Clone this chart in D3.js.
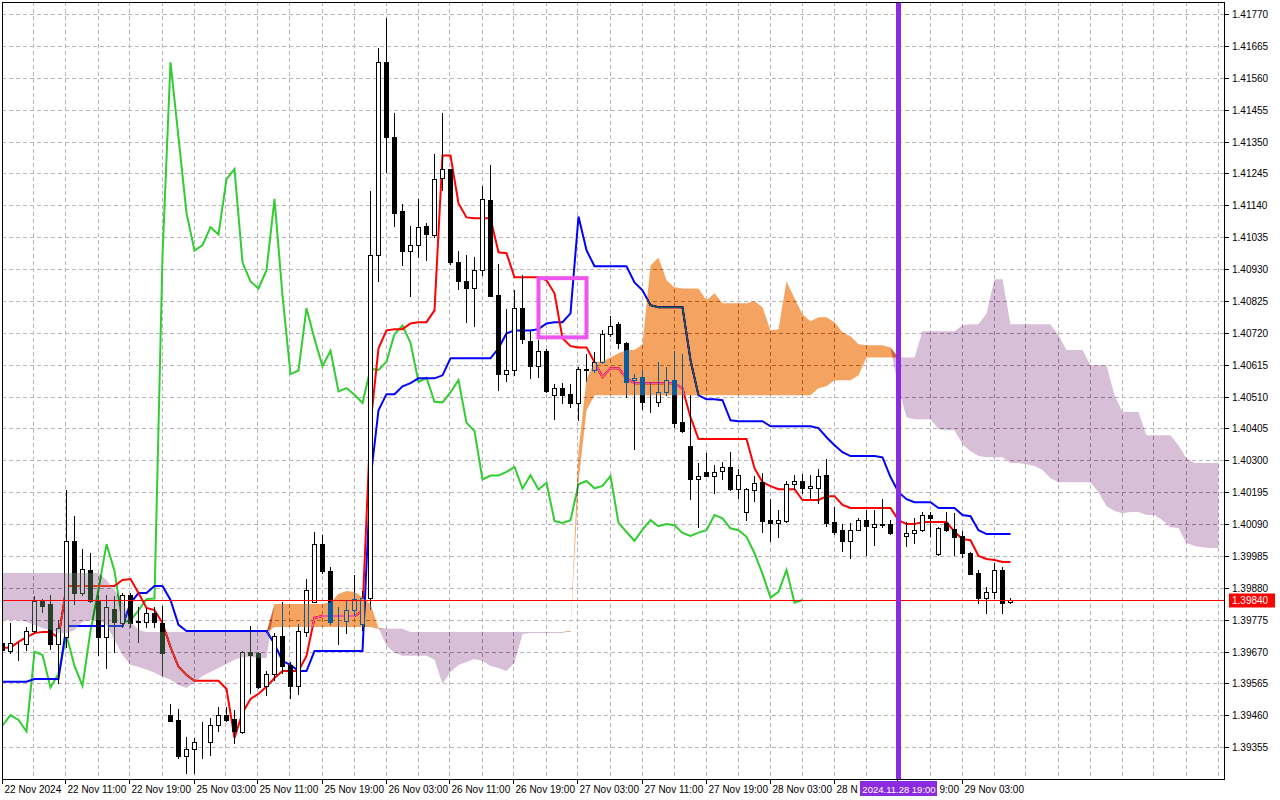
<!DOCTYPE html>
<html>
<head>
<meta charset="utf-8">
<script src="https://cdn.jsdelivr.net/npm/d3@7"></script>
<style>
body { margin: 0; background: #fff; }
svg { display: block; }
text { font-family: "Liberation Sans", Arial, sans-serif; font-size: 10px; }
</style>
</head>
<body>
<svg width="1280" height="800"></svg>
<script>
// H1 bars, 22 Nov 03:00 .. 29 Nov 09:00 (127 bars)
var opens = [1.39700,1.39673,1.39698,1.39695,1.39739,1.39837,1.39827,1.39695,1.39719,1.40034,1.39862,1.39939,1.39838,1.39719,1.39809,1.39765,1.39856,1.39767,1.39769,1.39798,1.39765,
  1.39462,1.39445,1.39325,1.39349,1.39371,1.39371,1.39427,1.39461,1.39448,1.39404,1.39670,1.39664,1.39556,1.39597,1.39723,1.39627,1.39557,1.39733,1.39833,1.40024,1.39936,1.39771,1.39771,1.39806,
  1.39760,1.39848,1.40975,1.41611,1.41364,1.41122,1.40991,1.41009,1.41072,1.41043,1.41229,1.41259,1.40953,1.40891,1.40866,1.40926,1.41158,1.40845,1.40584,1.40596,1.40801,1.40694,1.40610,1.40661,
  1.40514,1.40538,1.40519,1.40489,1.40601,1.40598,1.40625,1.40716,1.40748,1.40687,1.40564,1.40574,1.40493,1.40491,1.40524,1.40564,1.40427,1.40347,1.40237,1.40262,1.40250,1.40264,1.40278,1.40207,
  1.40129,1.40201,1.40229,1.40105,1.40094,1.40100,1.40221,1.40232,1.40208,1.40208,1.40251,1.40096,1.40069,1.40033,1.40072,1.40103,1.40082,1.40090,1.40090,1.40061,1.40051,1.40062,1.40070,1.40120,
  1.39991,1.40092,1.40073,1.40050,1.39996,1.39928,1.39848,1.39867,1.39939,1.39833];
var highs = [1.39705,1.39765,1.39703,1.39752,1.39853,1.39842,1.39856,1.39774,1.40202,1.40116,1.40007,1.39994,1.39856,1.39856,1.39853,1.39862,1.39863,1.39818,1.39813,1.39818,1.39820,
  1.39498,1.39480,1.39388,1.39385,1.39438,1.39451,1.39489,1.39489,1.39478,1.39673,1.39754,1.39670,1.39607,1.39730,1.39833,1.39635,1.39760,1.39909,1.40065,1.40055,1.39950,1.39818,1.39840,1.39921,
  1.39870,1.41188,1.41658,1.41758,1.41443,1.41144,1.41072,1.41161,1.41081,1.41309,1.41445,1.41260,1.40990,1.40975,1.40970,1.41204,1.41273,1.40947,1.40798,1.40862,1.40911,1.40725,1.40697,1.40667,
  1.40552,1.40555,1.40552,1.40609,1.40650,1.40658,1.40728,1.40776,1.40756,1.40690,1.40583,1.40599,1.40559,1.40625,1.40609,1.40659,1.40649,1.40514,1.40290,1.40323,1.40284,1.40294,1.40327,1.40273,
  1.40210,1.40248,1.40259,1.40173,1.40136,1.40232,1.40252,1.40254,1.40251,1.40270,1.40306,1.40147,1.40089,1.40094,1.40111,1.40136,1.40138,1.40173,1.40105,1.40110,1.40097,1.40110,1.40129,1.40129,
  1.40081,1.40129,1.40125,1.40068,1.39999,1.39939,1.39884,1.39961,1.39950,1.39847];
var lows = [1.39665,1.39665,1.39643,1.39676,1.39736,1.39802,1.39678,1.39566,1.39686,1.39827,1.39856,1.39834,1.39659,1.39615,1.39670,1.39752,1.39752,1.39703,1.39752,1.39752,1.39594,
  1.39440,1.39319,1.39270,1.39270,1.39319,1.39331,1.39407,1.39443,1.39369,1.39403,1.39533,1.39549,1.39527,1.39576,1.39600,1.39518,1.39532,1.39723,1.39833,1.39930,1.39760,1.39694,1.39730,1.39789,
  1.39740,1.39811,1.40889,1.41248,1.41072,1.40942,1.40842,1.40971,1.40961,1.41037,1.41191,1.40946,1.40864,1.40757,1.40743,1.40911,1.40840,1.40531,1.40560,1.40580,1.40688,1.40571,1.40573,1.40525,
  1.40437,1.40489,1.40476,1.40434,1.40560,1.40592,1.40620,1.40708,1.40669,1.40509,1.40337,1.40468,1.40460,1.40480,1.40514,1.40411,1.40394,1.40174,1.40081,1.40248,1.40191,1.40237,1.40202,1.40177,
  1.40102,1.40167,1.40064,1.40033,1.40047,1.40096,1.40206,1.40193,1.40175,1.40160,1.40083,1.40059,1.40002,1.39977,1.40070,1.39988,1.40021,1.40081,1.40057,1.40030,1.40018,1.40028,1.40067,1.40051,
  1.39988,1.40068,1.39988,1.39980,1.39925,1.39829,1.39798,1.39846,1.39798,1.39831];
var closes = [1.39675,1.39698,1.39700,1.39739,1.39837,1.39820,1.39695,1.39747,1.40034,1.39862,1.39941,1.39838,1.39719,1.39816,1.39769,1.39856,1.39763,1.39771,1.39798,1.39769,1.39667,
  1.39443,1.39327,1.39349,1.39371,1.39373,1.39427,1.39461,1.39445,1.39407,1.39670,1.39659,1.39552,1.39597,1.39723,1.39623,1.39557,1.39738,1.39874,1.40024,1.39936,1.39767,1.39772,1.39806,1.39843,
  1.39845,1.40975,1.41611,1.41364,1.41114,1.40991,1.41009,1.41068,1.41044,1.41226,1.41259,1.40952,1.40889,1.40866,1.40926,1.41161,1.40842,1.40584,1.40596,1.40801,1.40700,1.40610,1.40661,1.40527,
  1.40538,1.40516,1.40489,1.40601,1.40598,1.40625,1.40716,1.40744,1.40687,1.40558,1.40572,1.40493,1.40491,1.40524,1.40564,1.40424,1.40396,1.40237,1.40250,1.40250,1.40262,1.40278,1.40207,1.40251,
  1.40204,1.40226,1.40100,1.40094,1.40103,1.40221,1.40232,1.40208,1.40216,1.40248,1.40094,1.40064,1.40035,1.40072,1.40103,1.40083,1.40090,1.40086,1.40061,1.40051,1.40062,1.40070,1.40120,1.40109,
  1.40076,1.40070,1.40048,1.39994,1.39926,1.39848,1.39867,1.39939,1.39831,1.39840];

// Ichimoku lines
var tenkan = [1.39683,1.39683,1.39702,1.39718,1.39731,1.39735,1.39735,1.39715,1.39886,1.39886,1.39886,1.39886,1.39886,1.39886,1.39886,
  1.39906,1.39909,1.39863,1.39814,1.39807,1.39764,1.39685,1.39620,1.39593,1.39574,1.39574,1.39574,1.39574,
  1.39547,1.39386,1.39468,1.39514,1.39531,1.39554,1.39583,1.39606,1.39606,1.39606,1.39656,1.39781,1.39787,1.39787,1.39787,1.39787,1.39787,
  1.39804,1.40419,1.40669,1.40728,1.40732,1.40732,1.40751,1.40755,1.40755,1.40794,1.41304,1.41304,1.41146,1.41100,1.41097,1.41097,1.41097,
  1.40985,1.40982,1.40903,1.40903,1.40903,1.40903,1.40893,1.40850,1.40702,1.40676,1.40672,1.40672,1.40623,1.40574,1.40603,1.40603,1.40570,
  1.40554,1.40554,1.40554,1.40554,1.40554,1.40554,1.40537,1.40442,1.40370,1.40370,1.40370,1.40370,1.40370,1.40370,1.40370,
  1.40274,1.40228,1.40215,1.40205,1.40205,1.40205,1.40169,1.40169,1.40169,1.40182,1.40182,1.40153,1.40143,1.40143,1.40143,1.40143,1.40143,1.40143,
  1.40103,1.40090,1.40090,1.40097,1.40097,1.40097,1.40097,1.40064,1.40041,1.40037,1.39985,1.39975,1.39972,1.39965,1.39965];
var kijun = [1.39571,1.39571,1.39571,1.39571,1.39580,1.39580,1.39580,1.39580,1.39754,1.39754,1.39754,1.39754,1.39754,1.39754,1.39754,1.39754,
  1.39830,1.39863,1.39863,1.39886,1.39886,1.39840,1.39758,1.39738,1.39738,1.39738,1.39738,1.39738,1.39738,1.39738,1.39738,1.39738,1.39738,1.39738,
  1.39695,1.39639,1.39626,1.39606,1.39606,1.39672,1.39672,1.39672,1.39672,1.39672,1.39672,1.39672,
  1.40238,1.40465,1.40518,1.40518,1.40544,1.40554,1.40570,1.40570,1.40570,1.40580,1.40636,1.40636,1.40636,1.40636,1.40636,1.40636,
  1.40669,1.40718,1.40728,1.40728,1.40728,1.40732,1.40751,1.40755,1.40755,1.40784,1.41103,1.40992,1.40939,1.40939,1.40939,1.40939,1.40939,
  1.40886,1.40860,1.40811,1.40804,1.40804,1.40804,1.40804,1.40630,1.40514,1.40501,1.40501,1.40498,1.40432,1.40429,1.40429,1.40429,1.40429,
  1.40412,1.40412,1.40412,1.40412,1.40412,1.40412,1.40406,1.40376,1.40350,1.40327,1.40314,1.40314,1.40314,1.40314,
  1.40310,1.40245,1.40195,1.40172,1.40162,1.40162,1.40162,1.40143,1.40143,1.40143,1.40120,1.40116,1.40070,1.40057,1.40057,1.40057,1.40057];
// senkou spans run 26 bars past the last candle (153 points)
var spanA = [1.39774,1.39774,1.39774,1.39768,1.39758,1.39748,1.39741,1.39731,1.39731,1.39741,1.39768,1.39774,1.39774,1.39758,1.39708,1.39659,1.39626,
  1.39620,1.39610,1.39600,1.39587,1.39577,1.39560,1.39550,1.39570,1.39590,1.39603,1.39616,1.39629,1.39643,1.39652,1.39652,1.39649,1.39649,
  1.39827,1.39827,1.39827,1.39827,1.39827,1.39827,1.39827,1.39833,1.39860,1.39870,1.39866,1.39850,1.39827,
  1.39748,1.39689,1.39666,1.39656,1.39656,1.39656,1.39656,1.39643,1.39564,1.39603,1.39626,1.39636,1.39646,1.39639,1.39623,1.39616,1.39606,1.39633,
  1.39728,1.39731,1.39731,1.39731,1.39731,1.39731,1.39738,
  1.40330,1.40567,1.40623,1.40626,1.40639,1.40653,1.40663,1.40663,1.40682,1.40942,1.40968,1.40893,1.40870,1.40866,1.40866,1.40866,
  1.40827,1.40850,1.40817,1.40817,1.40817,1.40817,1.40824,1.40804,1.40728,1.40732,1.40890,1.40834,1.40781,1.40758,1.40771,1.40771,
  1.40755,1.40722,1.40709,1.40682,1.40679,1.40679,1.40679,1.40672,1.40537,
  1.40442,1.40435,1.40435,1.40435,1.40403,1.40399,1.40399,1.40353,1.40330,1.40314,1.40310,1.40310,1.40310,1.40291,1.40291,1.40287,1.40281,
  1.40268,1.40241,1.40228,1.40228,1.40228,1.40228,1.40228,1.40195,1.40149,1.40133,1.40126,1.40130,1.40130,1.40120,1.40120,1.40103,
  1.40080,1.40077,1.40028,1.40018,1.40014,1.40011,1.40011];
var spanB = [1.39929,1.39929,1.39929,1.39929,1.39929,1.39929,1.39929,1.39929,1.39929,1.39929,1.39929,1.39929,1.39929,1.39906,1.39873,1.39840,1.39768,1.39741,
  1.39735,1.39735,1.39735,1.39735,1.39735,1.39735,1.39735,1.39735,1.39735,1.39735,1.39735,1.39735,1.39735,1.39735,1.39735,1.39735,
  1.39751,1.39751,1.39751,1.39751,1.39751,1.39751,1.39751,1.39751,1.39751,1.39751,1.39751,1.39751,1.39751,
  1.39745,1.39745,1.39745,1.39745,
  1.39735,1.39735,1.39735,1.39735,1.39735,1.39735,1.39735,1.39735,1.39735,1.39735,1.39735,1.39735,1.39735,1.39735,1.39735,1.39735,1.39735,1.39735,1.39735,1.39735,1.39735,
  1.40228,1.40465,
  1.40514,1.40514,1.40514,1.40514,1.40514,1.40514,1.40514,1.40514,1.40514,1.40514,1.40514,1.40514,1.40514,1.40514,
  1.40514,1.40514,1.40514,1.40514,1.40514,1.40514,1.40514,1.40514,1.40514,1.40514,1.40514,1.40514,1.40514,1.40514,
  1.40537,1.40544,1.40564,1.40564,1.40564,1.40580,1.40639,1.40639,1.40639,1.40639,1.40639,1.40639,1.40639,
  1.40725,1.40725,1.40725,1.40725,1.40725,1.40745,1.40748,1.40748,1.40784,1.40896,1.40896,
  1.40748,1.40748,1.40748,1.40748,1.40748,1.40748,1.40712,1.40663,1.40663,1.40663,1.40613,1.40613,1.40613,1.40514,
  1.40459,1.40459,1.40459,1.40383,1.40383,1.40383,1.40383,1.40350,1.40307,1.40291,1.40291,1.40291,1.40291];

var priceTicks = [1.39355,1.39460,1.39565,1.39670,1.39775,1.39880,1.39985,1.40090,1.40195,1.40300,1.40405,1.40510,
  1.40615,1.40720,1.40825,1.40930,1.41035,1.41140,1.41245,1.41350,1.41455,1.41560,1.41665,1.41770];
var timeLabels = ['22 Nov 2024','22 Nov 11:00','22 Nov 19:00','25 Nov 03:00','25 Nov 11:00','25 Nov 19:00','26 Nov 03:00',
  '26 Nov 11:00','26 Nov 19:00','27 Nov 03:00','27 Nov 11:00','27 Nov 19:00','28 Nov 03:00','28 Nov 11:00','28 Nov 19:00','29 Nov 03:00'];
var timeLabelBars = [0,8,16,24,32,40,48,56,64,72,80,88,96,104,112,120];
var lastPrice = 1.39840;
var markerBar = 112, markerLabel = '2024.11.28 19:00';
var boxBars = [67, 73], boxPrices = [1.40900, 1.40705];

var svg = d3.select('svg');
var plotLeft = 2, plotTop = 2, plotRight = 1225, plotBottom = 780;

// 8px per bar, price scale fixed by the right-hand labels
var x = d3.scaleLinear().domain([0, 152]).range([2.5, 1218.5]);
var y = d3.scaleLinear().domain([1.39840, 1.41770]).range([600, 14]);

svg.append('rect').attr('width', 1280).attr('height', 800).attr('fill', '#fff');

svg.append('clipPath').attr('id', 'plot')
  .append('rect').attr('x', plotLeft).attr('y', plotTop)
  .attr('width', plotRight - plotLeft).attr('height', plotBottom - plotTop);

// everything inside the plot sits in one group so the kumo blend sees a white backdrop
var plot = svg.append('g').attr('clip-path', 'url(#plot)');
plot.append('rect').attr('x', plotLeft).attr('y', plotTop)
  .attr('width', plotRight - plotLeft).attr('height', plotBottom - plotTop).attr('fill', '#fff');

var grid = plot.append('g').attr('stroke', '#bdb3bd').attr('stroke-dasharray', '4,3').attr('stroke-width', 1);
// vertical grid every 4 bars
for (var b = 4; b <= 152; b += 4) {
  grid.append('line').attr('x1', Math.round(x(b)) - 0.5).attr('x2', Math.round(x(b)) - 0.5)
    .attr('y1', plotTop).attr('y2', plotBottom);
}
priceTicks.forEach(function(p) {
  var yy = Math.round(y(p)) + 0.5;
  grid.append('line').attr('x1', plotLeft).attr('x2', plotRight).attr('y1', yy).attr('y2', yy);
});

var line = d3.line().x(function(d, i) { return x(i); }).y(function(d) { return y(d); });

// chikou = closes shifted 26 bars back
plot.append('path').datum(closes.slice(26)).attr('d', line)
  .attr('fill', 'none').attr('stroke', '#32cd32').attr('stroke-width', 2);
plot.append('path').datum(kijun).attr('d', line)
  .attr('fill', 'none').attr('stroke', '#0000ff').attr('stroke-width', 2);
plot.append('path').datum(tenkan).attr('d', line)
  .attr('fill', 'none').attr('stroke', '#ff0000').attr('stroke-width', 2);

// candles
var candles = plot.append('g');
closes.forEach(function(c, i) {
  var o = opens[i], xi = x(i);
  candles.append('line').attr('x1', xi).attr('x2', xi)
    .attr('y1', Math.round(y(highs[i]))).attr('y2', Math.round(y(lows[i])) + 1)
    .attr('stroke', '#000').attr('stroke-width', 1);
  var top = Math.round(y(Math.max(o, c))), bot = Math.round(y(Math.min(o, c)));
  candles.append('rect').attr('x', xi - 2).attr('width', 4)
    .attr('y', top + 0.5).attr('height', Math.max(bot - top, 0))
    .attr('fill', c >= o ? '#fff' : '#000').attr('stroke', '#000').attr('stroke-width', 1);
});

// kumo, painted as inverted colour with difference blend (MT5 xor look)
var bull = d3.area().x(function(d, i) { return x(i); })
  .y0(function(d, i) { return y(spanB[i]); })
  .y1(function(d, i) { return y(Math.max(spanA[i], spanB[i])); });
var bear = d3.area().x(function(d, i) { return x(i); })
  .y0(function(d, i) { return y(spanA[i]); })
  .y1(function(d, i) { return y(Math.max(spanA[i], spanB[i])); });
plot.append('path').datum(spanA).attr('d', bull)
  .attr('fill', '#0b5b9f').style('mix-blend-mode', 'difference');
plot.append('path').datum(spanA).attr('d', bear)
  .attr('fill', '#274027').style('mix-blend-mode', 'difference');

// last price line
var yLast = Math.round(y(lastPrice)) + 0.5;
plot.append('line').attr('x1', plotLeft).attr('x2', plotRight).attr('y1', yLast).attr('y2', yLast)
  .attr('stroke', '#ff0000').attr('stroke-width', 1);

// highlighted box
plot.append('rect')
  .attr('x', x(boxBars[0])).attr('y', y(boxPrices[0]))
  .attr('width', x(boxBars[1]) - x(boxBars[0])).attr('height', y(boxPrices[1]) - y(boxPrices[0]))
  .attr('fill', 'none').attr('stroke', '#ee55ee').attr('stroke-width', 4);

// vertical marker line
plot.append('line').attr('x1', x(markerBar)).attr('x2', x(markerBar))
  .attr('y1', plotTop).attr('y2', plotBottom)
  .attr('stroke', '#8a2be2').attr('stroke-width', 5);

// frame
svg.append('rect').attr('x', plotLeft + 0.5).attr('y', plotTop + 0.5)
  .attr('width', plotRight - plotLeft - 1).attr('height', plotBottom - plotTop - 1)
  .attr('fill', 'none').attr('stroke', '#000').attr('stroke-width', 1);

// price axis
priceTicks.forEach(function(p) {
  var yy = Math.round(y(p)) + 0.5;
  svg.append('line').attr('x1', plotRight - 1).attr('x2', plotRight + 4).attr('y1', yy).attr('y2', yy)
    .attr('stroke', '#000');
  svg.append('text').attr('x', plotRight + 7).attr('y', yy + 3.5).attr('fill', '#000').text(p.toFixed(5));
});
svg.append('rect').attr('x', plotRight + 4).attr('y', yLast - 7).attr('width', 46).attr('height', 14)
  .attr('fill', '#ff0000');
svg.append('text').attr('x', plotRight + 7).attr('y', yLast + 3.5).attr('fill', '#fff').text(lastPrice.toFixed(5));

// time axis; the marker date box hides most of the two labels it sits on,
// so only the visible bits are written out, each at its own place
var mx = x(markerBar), boxL = Math.round(mx - 38), boxR = Math.round(mx + 39);
timeLabelBars.forEach(function(b, k) {
  var xx = Math.round(x(b)) - 0.5;
  svg.append('line').attr('x1', xx).attr('x2', xx).attr('y1', plotBottom - 1).attr('y2', plotBottom + 4)
    .attr('stroke', '#000');
  var s = timeLabels[k];
  var t = svg.append('text').attr('x', xx + 2).attr('y', 793).attr('fill', '#000').text(s);
  if (b === 104) {
    while (s.length && xx + 2 + t.node().getComputedTextLength() > boxL + 1) {
      s = s.slice(0, -1);
      t.text(s);
    }
  }
  if (b === markerBar) {
    var end = xx + 2 + t.node().getComputedTextLength();
    while (s.length && end - t.node().getComputedTextLength() < boxR + 1) {
      s = s.slice(1);
      t.text(s);
    }
    t.attr('x', end).attr('text-anchor', 'end');
  }
});
svg.append('rect').attr('x', boxL).attr('y', 781).attr('width', boxR - boxL).attr('height', 15).attr('fill', '#8a2be2');
svg.append('text').attr('x', mx + 0.5).attr('y', 793).attr('text-anchor', 'middle')
  .attr('fill', '#fff').style('font-size', '9.5px').text(markerLabel);
</script>
</body>
</html>
